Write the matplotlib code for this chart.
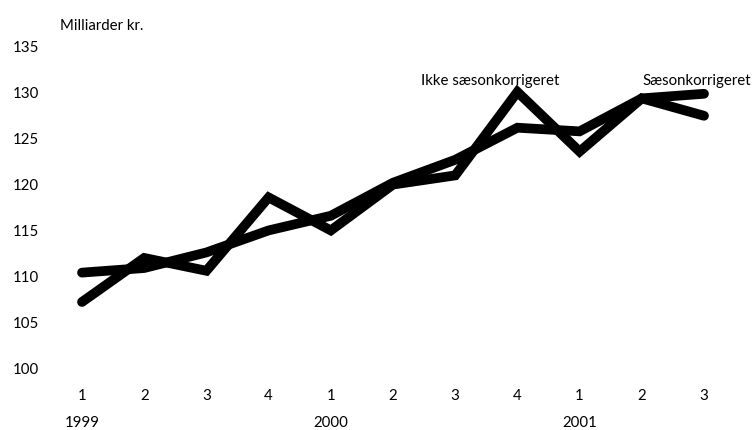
import matplotlib
matplotlib.use("Agg")
import matplotlib.pyplot as plt
import matplotlib.transforms as mtransforms

plt.rcParams['font.family'] = ['Lato', 'DejaVu Sans']

quarters = ['1', '2', '3', '4', '1', '2', '3', '4', '1', '2', '3']
years = ['1999', '2000', '2001']
year_pos = [0, 4, 8]
ikke = [107.2, 112.0, 110.6, 118.6, 115.0, 120.0, 121.0, 130.1, 123.6, 129.4, 127.5]
saeson = [110.4, 110.9, 112.6, 115.0, 116.6, 120.2, 122.7, 126.2, 125.8, 129.4, 129.9]
yticks = [100, 105, 110, 115, 120, 125, 130, 135]

W, H = 752, 430
fig = plt.figure(figsize=(W/100, H/100), dpi=100)
ax = fig.add_axes([82/W, (H-368)/H, 622/W, 321/H])
x = list(range(len(quarters)))
for s in (saeson, ikke):
    ax.plot(x, s, color='black', lw=7, solid_capstyle='round',
            solid_joinstyle='miter', clip_on=False)
ax.set_xlim(0, 10)
ax.set_ylim(100, 135)
fs = 10.8
ax.set_yticks(yticks)
ax.set_yticklabels([str(v) for v in yticks], ha='left', fontsize=fs)
ax.set_xticks(x)
ax.set_xticklabels(quarters, fontsize=fs)
ax.tick_params(axis='y', length=0, pad=49.5)
ax.tick_params(axis='x', length=0, pad=15)
for sp in ax.spines.values():
    sp.set_visible(False)
trans = mtransforms.blended_transform_factory(ax.transData, fig.transFigure)
for p, yl in zip(year_pos, years):
    ax.text(p, (H-423)/H, yl, transform=trans, ha='center', va='center', fontsize=fs)
fig.text(60/W, (H-26)/H, 'Milliarder kr.', ha='left', va='center', fontsize=fs)
fig.text(421/W, (H-81)/H, 'Ikke sæsonkorrigeret', ha='left', va='center', fontsize=fs)
fig.text(751/W, (H-81)/H, 'Sæsonkorrigeret', ha='right', va='center', fontsize=fs)
fig.savefig('out.png', dpi=100)
